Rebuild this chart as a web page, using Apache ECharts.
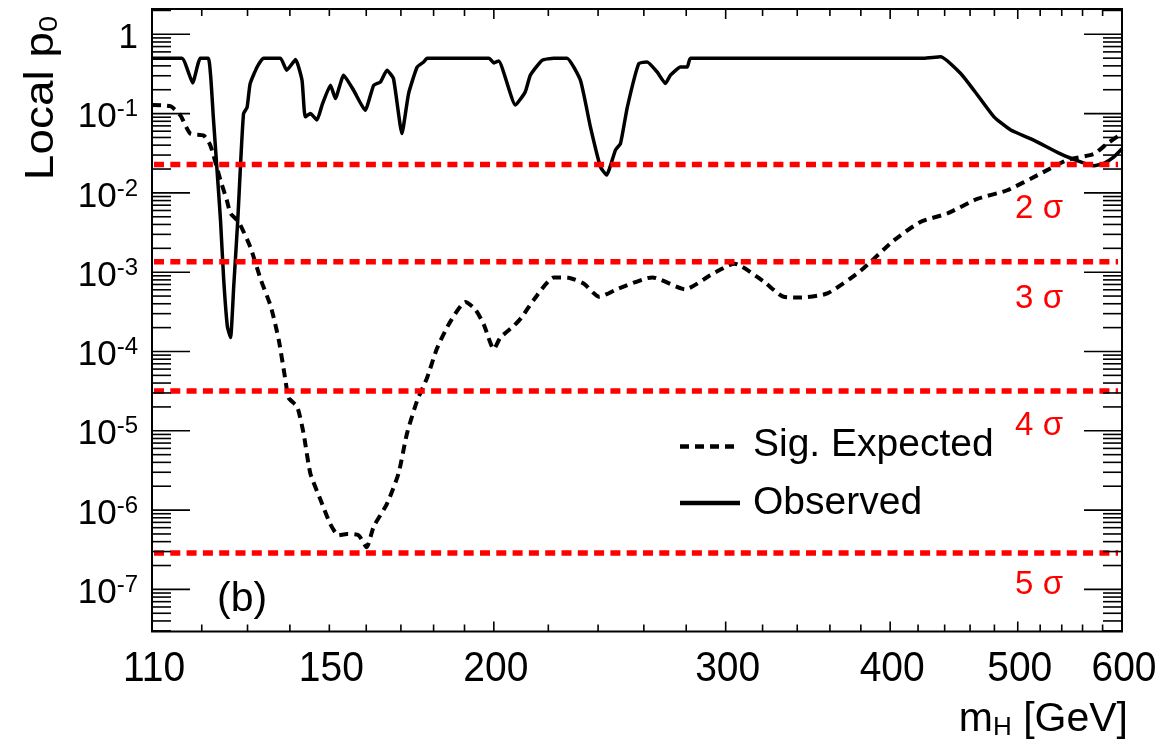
<!DOCTYPE html>
<html>
<head>
<meta charset="utf-8">
<script src="https://cdn.jsdelivr.net/npm/echarts@6/dist/echarts.min.js"></script>
<style>
  html, body { margin: 0; padding: 0; background: #fff; }
  #chart { width: 1159px; height: 745px; }
</style>
</head>
<body>
<div id="chart"></div>
<script>
// Local p0 versus Higgs mass hypothesis (log-log)
const FONT = '"Liberation Sans", Arial, Helvetica, sans-serif';

const xMin = 110, xMax = 600;
const yMin = Math.pow(10, -7.531), yMax = Math.pow(10, 0.319);

const xTickLabels = [110, 150, 200, 300, 400, 500, 600];
const xMajorTicks = [200, 300, 400, 500, 600];
const xMinorTicks = [120, 130, 140, 150, 160, 170, 180, 190,
  220, 240, 260, 280, 320, 340, 360, 380, 420, 440, 460, 480,
  520, 540, 560, 580];

// Observed local p0
const obsMass = [110, 115.9, 118.1, 119.7, 121.4, 122.5, 123.2, 124.0, 124.7, 125.5,
  126.2, 126.9, 127.8, 128.4, 129.1, 129.9, 130.6, 132.2, 133.7, 137.7,
  139.2, 141.4, 143.0, 143.8, 145.1, 146.8, 148.1, 150.3, 151.6, 153.8,
  156.5, 159.7, 162.1, 164.0, 165.9, 167.8, 170.3, 172.3, 174.9, 176.9,
  178.0, 198.3, 200.0, 201.7, 207.7, 211.3, 213.2, 217.6, 222.1, 227.3,
  232.7, 236.8, 241.0, 243.6, 247.4, 249.6, 252.6, 257.7, 261.5, 266.1,
  270.0, 272.4, 277.2, 280.5, 282.1, 424.1, 436.9, 452.5, 463.1, 479.6,
  493.9, 514.5, 538.9, 558.1, 571.3, 581.3, 591.6, 600];
const obsP0 = [0.5, 0.5, 0.244, 0.5, 0.5, 0.082, 0.0213, 0.00454, 8e-4, 2.06e-4,
  1.5e-4, 6.6e-4, 4.5e-3, 0.0213, 0.1, 0.12, 0.239, 0.387, 0.5, 0.5,
  0.352, 0.48, 0.263, 0.091, 0.1, 0.083, 0.128, 0.228, 0.155, 0.305,
  0.197, 0.11, 0.228, 0.25, 0.352, 0.277, 0.056, 0.179, 0.387, 0.448,
  0.5, 0.5, 0.436, 0.46, 0.128, 0.188, 0.305, 0.47, 0.5, 0.5,
  0.263, 0.068, 0.0213, 0.0168, 0.0346, 0.042, 0.121, 0.427, 0.448, 0.335,
  0.24, 0.305, 0.387, 0.387, 0.5, 0.5, 0.52, 0.32, 0.197, 0.091,
  0.062, 0.046, 0.031, 0.0246, 0.022, 0.0236, 0.0285, 0.036];

// Expected local p0 for a signal at each mass
const expMass = [110, 113.6, 115.6, 117.6, 120.4, 121.8, 123.2, 124.0, 125.4, 126.2,
  128.0, 130.6, 133.1, 135.4, 137.3, 138.9, 139.7, 141.8, 143.4, 145.1,
  147.7, 150.3, 152.4, 154.7, 157.9, 160.1, 162.1, 165.9, 169.3, 171.8,
  174.9, 178.0, 181.1, 185.4, 190.3, 193.6, 196.5, 200.0, 202.3, 207.1,
  210.0, 214.5, 222.2, 227.9, 234.0, 240.5, 248.1, 263.9, 279.5, 292.2,
  304.6, 320.7, 332.0, 342.0, 358.3, 379.8, 402.4, 421.7, 442.0, 465.8,
  490.9, 520.3, 545.1, 571.2, 584.8, 600];
const expP0 = [0.128, 0.124, 0.095, 0.056, 0.053, 0.040, 0.021, 0.0144, 0.008, 0.0055,
  0.0043, 0.0021, 7.9e-4, 3.7e-4, 1.4e-4, 4.4e-5, 2.6e-5, 2.0e-5, 9.2e-6, 2.9e-6,
  1.35e-6, 6.6e-7, 4.8e-7, 5.0e-7, 4.8e-7, 3.4e-7, 6.2e-7, 1.2e-6, 2.9e-6, 9.2e-6,
  2.4e-5, 4.7e-5, 1.1e-4, 2.4e-4, 4.2e-4, 3.4e-4, 2.2e-4, 1.07e-4, 1.5e-4, 2.1e-4,
  2.7e-4, 4.5e-4, 8.6e-4, 8.5e-4, 7.2e-4, 4.9e-4, 6.1e-4, 8.6e-4, 6.1e-4, 9.2e-4,
  1.28e-3, 7.6e-4, 4.9e-4, 4.8e-4, 5.4e-4, 1.04e-3, 2.5e-3, 4.3e-3, 5.5e-3, 8.4e-3,
  1.08e-2, 1.75e-2, 2.6e-2, 3.1e-2, 4.2e-2, 5.6e-2];

// One-sided p-values of the significance levels
const sigmaP0 = [0.02275, 1.35e-3, 3.167e-5, 2.867e-7];
const sigmaLabels = ['2 σ', '3 σ', '4 σ', '5 σ'];
// how far below each level its label sits, in pixels
const sigmaLabelGap = [44, 37, 35, 32];

// y ticks: decades are major, 2..9 x decade are minor
const yMajorTicks = [];
const yMinorTicks = [];
for (let k = -8; k <= 0; k++) {
  for (let m = 1; m <= 9; m++) {
    const v = m * Math.pow(10, k);
    if (v < yMin || v > yMax) continue;
    (m === 1 ? yMajorTicks : yMinorTicks).push(v);
  }
}

const tickStyle = { stroke: '#000', lineWidth: 1.6 };

function yTickItem(params, api) {
  const cs = params.coordSys;
  const y = api.coord([xMin, api.value(1)])[1];
  const len = api.value(2) ? 38 : 19;
  return {
    type: 'group', children: [
      { type: 'line', shape: { x1: cs.x, y1: y, x2: cs.x + len, y2: y }, style: tickStyle },
      { type: 'line', shape: { x1: cs.x + cs.width - len, y1: y, x2: cs.x + cs.width, y2: y }, style: tickStyle }
    ]
  };
}

function xTickItem(params, api) {
  const cs = params.coordSys;
  const x = api.coord([api.value(0), 1])[0];
  const len = api.value(2) ? 10 : 7;
  return {
    type: 'group', children: [
      { type: 'line', shape: { x1: x, y1: cs.y + cs.height, x2: x, y2: cs.y + cs.height - len }, style: tickStyle },
      { type: 'line', shape: { x1: x, y1: cs.y, x2: x, y2: cs.y + len }, style: tickStyle }
    ]
  };
}

function xLabelItem(params, api) {
  const cs = params.coordSys;
  const x = api.coord([api.value(0), 1])[0];
  return {
    type: 'text',
    x: x + 2, y: cs.y + cs.height + 38, scaleY: 1.1,
    style: {
      text: String(xTickLabels[params.dataIndex]), fill: '#000', font: '39px ' + FONT,
      align: 'center', verticalAlign: 'middle'
    }
  };
}

// Dashed significance levels with their labels under the right end
function sigmaItem(params, api) {
  const cs = params.coordSys;
  const y = api.coord([xMin, api.value(1)])[1];
  return {
    type: 'group', children: [
      {
        type: 'line', shape: { x1: cs.x + 2, y1: y, x2: cs.x + cs.width - 4, y2: y },
        style: { stroke: '#ff0000', lineWidth: 5.5, lineDash: [10, 6.3] }
      },
      {
        type: 'text', x: cs.x + cs.width - 59, y: y + sigmaLabelGap[params.dataIndex],
        style: {
          text: sigmaLabels[params.dataIndex], fill: '#ff0000', font: '33px ' + FONT,
          align: 'right', verticalAlign: 'middle'
        }
      }
    ]
  };
}

const chart = echarts.init(document.getElementById('chart'), null, { renderer: 'canvas' });

chart.setOption({
  animation: false,
  backgroundColor: '#fff',
  grid: {
    left: 152, right: 37, top: 9, bottom: 113.5,
    show: true, borderColor: '#000', borderWidth: 2, backgroundColor: 'transparent'
  },
  xAxis: {
    type: 'log', logBase: 10, min: xMin, max: xMax,
    axisLine: { show: false }, axisTick: { show: false },
    axisLabel: { show: false }, splitLine: { show: false }
  },
  yAxis: {
    type: 'log', logBase: 10, min: yMin, max: yMax,
    axisLine: { show: false }, axisTick: { show: false }, splitLine: { show: false },
    axisLabel: {
      margin: 14,
      formatter: function (v) {
        const e = Math.log10(v);
        const r = Math.round(e);
        if (Math.abs(e - r) > 1e-3) return '';
        if (r === 0) return '{b|1}';
        return '{b|10}{s|' + r + '}';
      },
      rich: {
        b: { fontSize: 35, fontFamily: FONT, color: '#000', lineHeight: 40, padding: [8, 0, 0, 0] },
        s: { fontSize: 24, fontFamily: FONT, color: '#000', lineHeight: 40, padding: [0, 0, 8, 0] }
      }
    }
  },
  graphic: [
    // legend
    {
      type: 'line', shape: { x1: 680, y1: 446.5, x2: 740, y2: 446.5 },
      style: { stroke: '#000', lineWidth: 4.5, lineDash: [9, 6] }
    },
    {
      type: 'text', x: 753, y: 445,
      style: { text: 'Sig. Expected', font: '39px ' + FONT, fill: '#000', verticalAlign: 'middle' }
    },
    {
      type: 'line', shape: { x1: 680, y1: 503, x2: 740, y2: 503 },
      style: { stroke: '#000', lineWidth: 4.5 }
    },
    {
      type: 'text', x: 753, y: 503,
      style: { text: 'Observed', font: '39px ' + FONT, fill: '#000', verticalAlign: 'middle' }
    },
    {
      type: 'text', x: 217, y: 600,
      style: { text: '(b)', font: '41px ' + FONT, fill: '#000', verticalAlign: 'middle' }
    },
    {
      type: 'text', x: 1128, y: 720,
      style: {
        text: '{m|m}{h|H}{m| [GeV]}', align: 'right', verticalAlign: 'middle',
        rich: {
          m: { fontSize: 41, fontFamily: FONT, fill: '#000', lineHeight: 44 },
          h: { fontSize: 26, fontFamily: FONT, fill: '#000', lineHeight: 44, padding: [16, 0, 0, 0] }
        }
      }
    },
    {
      type: 'text', x: 42, y: 98, rotation: Math.PI / 2, scaleX: 1.12,
      style: {
        text: '{m|Local p}{z|0}', align: 'center', verticalAlign: 'middle',
        rich: {
          m: { fontSize: 41, fontFamily: FONT, fill: '#000', lineHeight: 44 },
          z: { fontSize: 26, fontFamily: FONT, fill: '#000', lineHeight: 44, padding: [16, 0, 0, 0] }
        }
      }
    }
  ],
  series: [
    {
      name: 'Sig. Expected', type: 'line', z: 3,
      data: expMass.map((m, i) => [m, expP0[i]]),
      showSymbol: false, symbol: 'none', smooth: 0.2,
      lineStyle: { color: '#000', width: 4, type: [9, 6] }
    },
    {
      name: 'Observed', type: 'line', z: 3,
      data: obsMass.map((m, i) => [m, obsP0[i]]),
      showSymbol: false, symbol: 'none', smooth: 0.15,
      lineStyle: { color: '#000', width: 3.5, type: 'solid' }
    },
    {
      type: 'custom', z: 4, silent: true, clip: false,
      renderItem: sigmaItem,
      data: sigmaP0.map(p => [xMin, p])
    },
    {
      type: 'custom', z: 5, silent: true, clip: false,
      renderItem: yTickItem,
      data: yMajorTicks.map(v => [xMin, v, 1]).concat(yMinorTicks.map(v => [xMin, v, 0]))
    },
    {
      type: 'custom', z: 5, silent: true, clip: false,
      renderItem: xTickItem,
      data: xMajorTicks.map(v => [v, 1, 1]).concat(xMinorTicks.map(v => [v, 1, 0]))
    },
    {
      type: 'custom', z: 5, silent: true, clip: false,
      renderItem: xLabelItem,
      data: xTickLabels.map(v => [v, 1])
    }
  ]
});
</script>
</body>
</html>
